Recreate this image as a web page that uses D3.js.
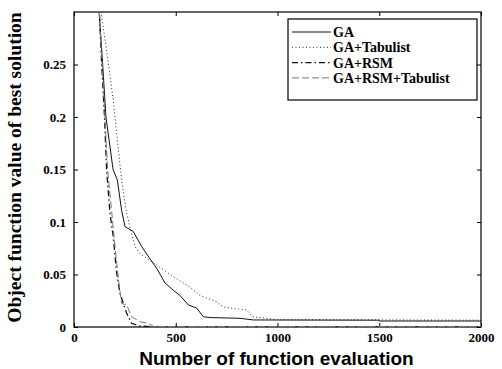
<!DOCTYPE html>
<html>
<head>
<meta charset="utf-8">
<script src="https://cdn.jsdelivr.net/npm/d3@7"></script>
<style>
  body { margin: 0; background: #fff; }
  svg { display: block; }
</style>
</head>
<body>
<svg id="chart"></svg>
<script>
// Data (x = function evaluations, y = objective value)
const gaX = [120, 141, 157, 192, 213, 234, 251, 291, 333, 373, 406, 447, 488, 521, 562, 603, 635, 668, 816, 881, 1500, 1500, 2000];
const gaY = [0.31, 0.25, 0.2, 0.15, 0.14, 0.111, 0.0955, 0.091, 0.0765, 0.065, 0.056, 0.042, 0.035, 0.03, 0.021, 0.018, 0.0098, 0.009, 0.0083, 0.0067, 0.0065, 0.0057, 0.0057];

const tabuX = [125, 160, 193, 218, 234, 259, 275, 300, 324, 406, 488, 570, 619, 701, 734, 849, 878, 1000, 2000];
const tabuY = [0.31, 0.264, 0.216, 0.169, 0.14, 0.108, 0.0955, 0.0765, 0.07, 0.059, 0.048, 0.038, 0.03, 0.024, 0.019, 0.016, 0.0098, 0.007, 0.0065];

const rsmX = [122, 136, 150, 160, 177, 193, 210, 226, 242, 259, 283, 320, 400, 2000];
const rsmY = [0.31, 0.25, 0.2, 0.15, 0.108, 0.086, 0.051, 0.032, 0.0225, 0.013, 0.0035, 0.001, 0, 0];

const rsmTabuX = [122, 138, 152, 165, 185, 205, 222, 234, 259, 283, 324, 365, 390, 2000];
const rsmTabuY = [0.31, 0.25, 0.2, 0.15, 0.11, 0.07, 0.04, 0.0225, 0.021, 0.0098, 0.005, 0.0035, 0.0005, 0.0005];

const seriesNames = ['GA', 'GA+Tabulist', 'GA+RSM', 'GA+RSM+Tabulist'];
const xTicks = [0, 500, 1000, 1500, 2000];
const yTicks = [0, 0.05, 0.1, 0.15, 0.2, 0.25];

const width = 502, height = 369;
const margin = { top: 12, right: 21, bottom: 42, left: 74 };

const svg = d3.select('#chart')
  .attr('width', width)
  .attr('height', height);

const x = d3.scaleLinear().domain([0, 2000]).range([margin.left, width - margin.right]);
const y = d3.scaleLinear().domain([0, 0.3]).range([height - margin.bottom, margin.top]);

// clip path for the curves
svg.append('defs').append('clipPath')
  .attr('id', 'plot-clip')
  .append('rect')
  .attr('x', x(0))
  .attr('y', y(0.3))
  .attr('width', x(2000) - x(0))
  .attr('height', y(0) - y(0.3));

const serif = '"Liberation Serif", "DejaVu Serif", serif';
const sans = '"Liberation Sans", Arial, sans-serif';

// axes, ticks pointing inward on all four sides
const axisFont = g => g.selectAll('text')
  .attr('font-family', serif)
  .attr('font-weight', 'bold')
  .attr('font-size', 13)
  .attr('fill', '#000');

svg.append('g')
  .attr('transform', `translate(0,${y(0)})`)
  .call(d3.axisBottom(x).tickValues(xTicks).tickSizeInner(-4).tickSizeOuter(0).tickPadding(6).tickFormat(d3.format('d')))
  .call(g => g.select('.domain').remove())
  .call(axisFont);

svg.append('g')
  .attr('transform', `translate(${x(0)},0)`)
  .call(d3.axisLeft(y).tickValues(yTicks).tickSizeInner(-4).tickSizeOuter(0).tickPadding(8).tickFormat(d => d === 0 ? '0' : String(+d.toFixed(2))))
  .call(g => g.select('.domain').remove())
  .call(axisFont);

svg.append('g')
  .attr('transform', `translate(0,${y(0.3)})`)
  .call(d3.axisTop(x).tickValues(xTicks).tickSizeInner(-4).tickSizeOuter(0).tickFormat(''))
  .call(g => g.select('.domain').remove());

svg.append('g')
  .attr('transform', `translate(${x(2000)},0)`)
  .call(d3.axisRight(y).tickValues(yTicks).tickSizeInner(-4).tickSizeOuter(0).tickFormat(''))
  .call(g => g.select('.domain').remove());

svg.append('rect')
  .attr('x', x(0))
  .attr('y', y(0.3))
  .attr('width', x(2000) - x(0))
  .attr('height', y(0) - y(0.3))
  .attr('fill', 'none')
  .attr('stroke', '#000')
  .attr('stroke-width', 1.2);

// curves
const styles = [
  { xs: gaX, ys: gaY, color: '#111', dash: null, w: 1 },
  { xs: tabuX, ys: tabuY, color: '#222', dash: '1,2.5', w: 1 },
  { xs: rsmX, ys: rsmY, color: '#111', dash: '6,3,1.5,3', w: 1.3 },
  { xs: rsmTabuX, ys: rsmTabuY, color: '#777', dash: '7,3', w: 1 }
];

const line = d3.line().x(d => x(d[0])).y(d => y(d[1]));

svg.append('g')
  .attr('clip-path', 'url(#plot-clip)')
  .selectAll('path')
  .data(styles)
  .join('path')
  .attr('d', s => line(s.xs.map((v, i) => [v, s.ys[i]])))
  .attr('fill', 'none')
  .attr('stroke', s => s.color)
  .attr('stroke-width', s => s.w)
  .attr('stroke-dasharray', s => s.dash);

// legend
const legend = svg.append('g').attr('transform', 'translate(288,19)');
legend.append('rect')
  .attr('width', 189)
  .attr('height', 81)
  .attr('fill', '#fff')
  .attr('stroke', '#000')
  .attr('stroke-width', 1.2);

const items = legend.selectAll('g.item')
  .data(styles)
  .join('g')
  .attr('class', 'item')
  .attr('transform', (d, i) => `translate(0,${13 + i * 15.3})`);

items.append('line')
  .attr('x1', 4).attr('x2', 43)
  .attr('stroke', s => s.color)
  .attr('stroke-width', s => s.w)
  .attr('stroke-dasharray', s => s.dash);

items.append('text')
  .attr('x', 45)
  .attr('y', 5)
  .attr('font-family', serif)
  .attr('font-weight', 'bold')
  .attr('font-size', 14)
  .text((d, i) => seriesNames[i]);

// axis titles
svg.append('text')
  .attr('x', x(1000) - 1)
  .attr('y', 365)
  .attr('text-anchor', 'middle')
  .attr('font-family', sans)
  .attr('font-weight', 'bold')
  .attr('font-size', 19)
  .text('Number of function evaluation');

svg.append('text')
  .attr('transform', `translate(21,${(y(0) + y(0.3)) / 2 - 2}) rotate(-90)`)
  .attr('text-anchor', 'middle')
  .attr('font-family', serif)
  .attr('font-weight', 'bold')
  .attr('font-size', 19.5)
  .text('Object function value of best solution');
</script>
</body>
</html>
